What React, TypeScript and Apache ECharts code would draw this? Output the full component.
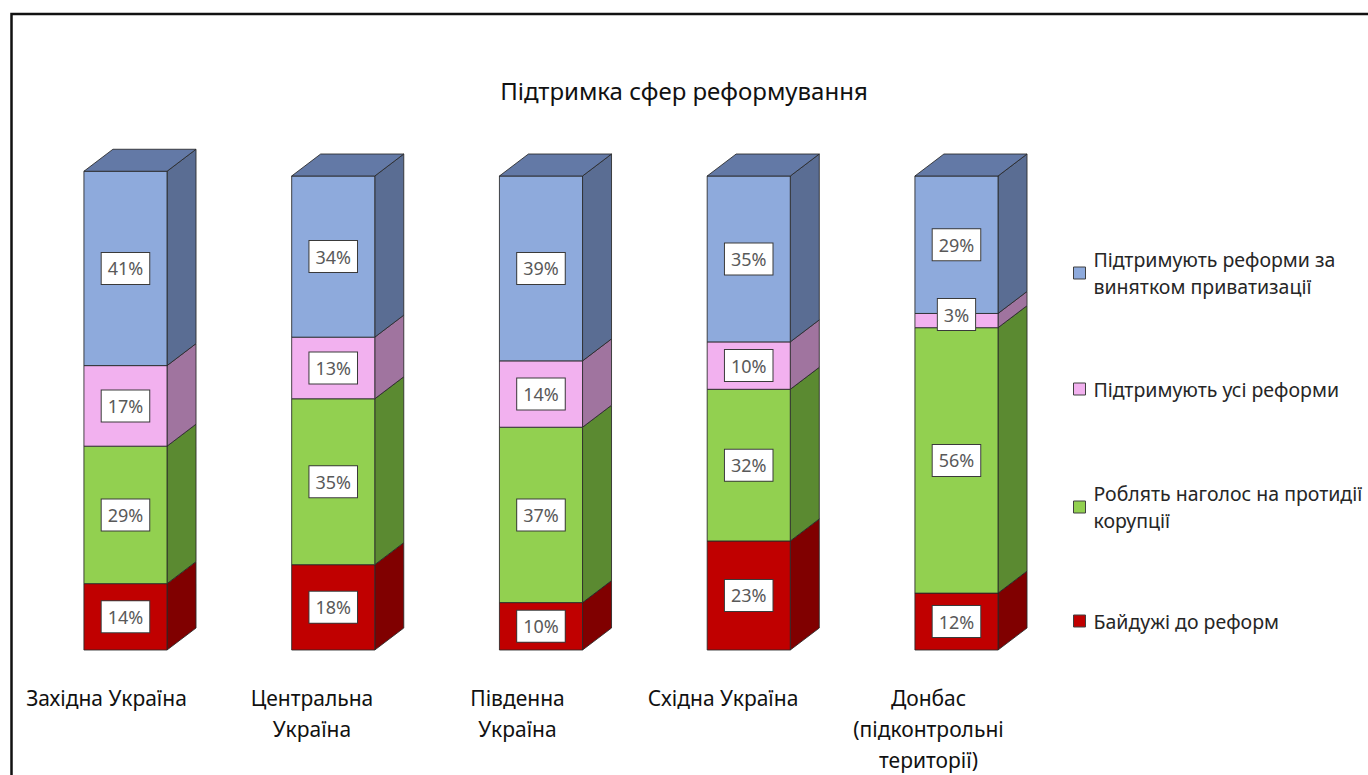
import React, { useEffect, useRef } from "react";
import * as echarts from "echarts";

const categories = [
  "Західна Україна",
  "Центральна\nУкраїна",
  "Південна\nУкраїна",
  "Східна Україна",
  "Донбас\n(підконтрольні\nтериторії)",
];
const seriesNames = [
  "Байдужі до реформ",
  "Роблять наголос на протидії корупції",
  "Підтримують усі реформи",
  "Підтримують реформи за винятком приватизації",
];
const legendTexts = [
  "Байдужі до реформ",
  "Роблять наголос на протидії\nкорупції",
  "Підтримують усі реформи",
  "Підтримують реформи за\nвинятком приватизації",
];
const indifferent = [14, 18, 10, 23, 12];
const antiCorruption = [29, 35, 37, 32, 56];
const allReforms = [17, 13, 14, 10, 3];
const exceptPrivatization = [41, 34, 39, 35, 29];
const seriesValues = [indifferent, antiCorruption, allReforms, exceptPrivatization];

const frontColors = ["#c00000", "#92d050", "#f2b1ef", "#8eaadc"];
const sideColors = ["#800000", "#5b8a31", "#a0749f", "#5a6d93"];
const topColor = "#6379a6";

const FONT = '"Noto Sans", "Open Sans", sans-serif';

export default function App() {
  const ref = useRef<HTMLDivElement>(null);
  useEffect(() => {
    if (!ref.current) return;
    const chart = echarts.init(ref.current, undefined, { renderer: "svg" });

    const bases = categories.map(() => 0);
    const series: any[] = seriesValues.map((vals, si) => {
      const data = vals.map((v, ci) => {
        const b = bases[ci];
        bases[ci] += v;
        return [ci, b, b + v, v];
      });
      const isTop = si === seriesValues.length - 1;
      return {
        type: "custom",
        name: seriesNames[si],
        xAxisIndex: 0,
        yAxisIndex: 0,
        itemStyle: { color: frontColors[si] },
        encode: { x: 0, y: [1, 2] },
        data,
        renderItem: (params: any, api: any) => {
          const ci = api.value(0);
          const base = api.value(1);
          const top = api.value(2);
          const val = api.value(3);
          const p0 = api.coord([ci, base]);
          const p1 = api.coord([ci, top]);
          const band = api.size([1, 0])[0];
          const w = band * 0.4;
          const dx = 29;
          const dy = 22;
          const xl = p0[0] - w / 2;
          const xr = p0[0] + w / 2;
          const yb = p0[1];
          const yt = p1[1];
          const stroke = "rgba(40,40,40,0.85)";
          const children: any[] = [
            {
              type: "polygon",
              shape: {
                points: [
                  [xr, yb],
                  [xr + dx, yb - dy],
                  [xr + dx, yt - dy],
                  [xr, yt],
                ],
              },
              style: { fill: sideColors[si], stroke, lineWidth: 1 },
            },
            {
              type: "rect",
              shape: { x: xl, y: yt, width: w, height: yb - yt },
              style: { fill: frontColors[si], stroke, lineWidth: 1 },
            },
          ];
          if (isTop) {
            children.push({
              type: "polygon",
              shape: {
                points: [
                  [xl, yt],
                  [xr, yt],
                  [xr + dx, yt - dy],
                  [xl + dx, yt - dy],
                ],
              },
              style: { fill: topColor, stroke, lineWidth: 1 },
            });
          }
          const small = yb - yt < 20;
          children.push({
            type: "text",
            z2: 100,
            x: p0[0],
            y: (yb + yt) / 2 - (small ? 6 : 0),
            style: {
              text: val + "%",
              fill: "#595959",
              font: `18px ${FONT}`,
              align: "center",
              verticalAlign: "middle",
              textAlign: "center",
              textVerticalAlign: "middle",
              backgroundColor: "#ffffff",
              borderColor: "#3a3a3a",
              borderWidth: 1,
              padding: [7, 6, 6, 6],
            },
          });
          return { type: "group", children };
        },
      };
    });

    const legendTops = [607.5, 466.5, 375.5, 232.5];
    const legends = seriesNames.map((name, si) => {
      const twoLine = legendTexts[si].includes("\n");
      return {
        show: true,
        data: [{ name }],
        left: 1073,
        top: legendTops[si],
        padding: 0,
        orient: "vertical",
        icon: "rect",
        itemWidth: 12,
        itemHeight: 12,
        selectedMode: false,
        itemStyle: { borderColor: "#404040", borderWidth: 1 },
        formatter: () => legendTexts[si],
        textStyle: {
          color: "#262626",
          fontSize: 19.5,
          fontFamily: FONT,
          lineHeight: 27,
          padding: twoLine ? [27, 0, 0, 3] : [0, 0, 0, 3],
        },
      };
    });

    chart.setOption({
      animation: false,
      backgroundColor: "#ffffff",
      title: {
        text: "Підтримка сфер реформування",
        left: "center",
        top: 73,
        textStyle: { fontSize: 24, fontWeight: "normal", color: "#111", fontFamily: FONT },
      },
      legend: legends,
      grid: [
        { left: 21.6, width: 1038.75, top: 176, bottom: 125 },
        { left: 3.75, width: 1027.5, top: 176, bottom: 125 },
      ],
      xAxis: [
        {
          type: "category",
          gridIndex: 0,
          data: categories,
          show: false,
        },
        {
          type: "category",
          gridIndex: 1,
          data: categories,
          axisLine: { show: false },
          axisTick: { show: false },
          axisLabel: {
            margin: 35,
            color: "#111",
            fontSize: 21,
            fontFamily: FONT,
            lineHeight: 31,
            interval: 0,
          },
        },
      ],
      yAxis: [
        { type: "value", gridIndex: 0, min: 0, max: 100, show: false },
        { type: "value", gridIndex: 1, min: 0, max: 100, show: false },
      ],
      graphic: [
        {
          type: "rect",
          left: 9,
          top: 11.5,
          shape: { x: 0, y: 0, width: 1400, height: 800 },
          style: { fill: "none", stroke: "#111", lineWidth: 2.5 },
          silent: true,
        },
      ],
      series,
    });
    return () => chart.dispose();
  }, []);
  return (
    <div
      ref={ref}
      style={{ position: "fixed", left: 0, top: 0, width: 1368, height: 775 }}
    />
  );
}
